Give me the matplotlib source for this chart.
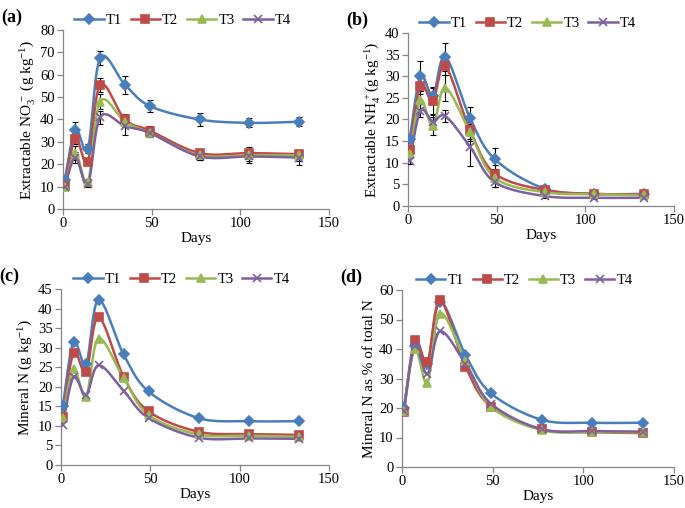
import numpy as np
import matplotlib
matplotlib.use("Agg")
import matplotlib.pyplot as plt

plt.rcParams['font.family'] = ['Liberation Serif', 'DejaVu Serif']
plt.rcParams['mathtext.fontset'] = 'custom'
plt.rcParams['mathtext.rm'] = 'Liberation Serif'
plt.rcParams['mathtext.it'] = 'Liberation Serif:italic'

days = [1, 7, 14, 21, 35, 49, 77, 105, 133]
names = ['T1', 'T2', 'T3', 'T4']

# (a) extractable NO3-
no3_t1 = [13, 35.5, 27, 67.5, 55.5, 46, 40, 38.5, 39]
no3_t2 = [10.5, 31.5, 21, 55.5, 40, 35, 25, 25, 24.5]
no3_t3 = [10, 25, 12, 48, 39, 34, 24, 24, 24]
no3_t4 = [10, 23, 11, 41, 37, 34, 23.5, 23.5, 23]
no3_err_t1 = [1.5, 3.5, 2, 3, 4, 2.5, 3, 2, 2]
no3_err_t2 = [1, 2.5, 1.5, 3, 2.5, 2, 2, 2.5, 2]
no3_err_t3 = [1, 3, 1.5, 3.5, 2.5, 2, 2, 2.5, 2.5]
no3_err_t4 = [1, 2.5, 1, 3, 4, 2, 1.5, 3, 3.5]

# (b) extractable NH4+
nh4_t1 = [15.5, 30, 25.5, 34.5, 20.3, 10.8, 4, 2.8, 2.8]
nh4_t2 = [13, 27.8, 24.3, 32.3, 17.5, 7.5, 3.7, 2.8, 2.7]
nh4_t3 = [12, 24.5, 18.5, 27.3, 17, 6.5, 3.2, 2.7, 2.5]
nh4_t4 = [10.5, 22, 19.5, 20.8, 13.7, 5.5, 2.3, 1.9, 1.9]
nh4_err_t1 = [1, 3.5, 2, 3.3, 2.5, 2.7, 0.5, 0.4, 0.4]
nh4_err_t2 = [1, 2, 3, 2, 2, 2, 0.5, 0.4, 0.4]
nh4_err_t3 = [1, 2, 2, 3, 2, 2, 0.5, 0.4, 0.4]
nh4_err_t4 = [0.8, 1.5, 1.5, 1.3, 4.5, 1, 0.4, 0.3, 0.3]

# (c) mineral N
min_t1 = [15, 31.5, 25.8, 42.2, 28.3, 18.8, 12, 11.2, 11.2]
min_t2 = [12.3, 28.7, 23.8, 37.8, 22.6, 13.7, 8.5, 7.9, 7.7]
min_t3 = [12, 24.5, 17.5, 32.3, 22.2, 12.8, 7.8, 7.5, 7.2]
min_t4 = [10.3, 22.5, 17.8, 25.5, 19, 12, 7, 6.8, 6.7]

# (d) mineral N as % of total N
pct_t1 = [20, 41, 35, 56, 38, 25, 16, 15, 15]
pct_t2 = [18.5, 43, 35.5, 56.5, 34, 20.5, 12.8, 11.8, 11.5]
pct_t3 = [19, 40, 28.5, 52, 36, 20.5, 12.5, 11.8, 11.8]
pct_t4 = [19, 41, 31.5, 46, 35, 21.5, 12.8, 12.2, 12]

colors = ['#4A7EBB', '#BE4B48', '#98B954', '#7D60A0']
markers = ['D', 's', '^', 'x']
msizes = [5, 6, 6, 6]


def smooth(x, y, n=30):
    # excel-like smoothed line (catmull-rom bezier) for drawing only
    p = np.column_stack([x, y]).astype(float)
    out = [p[0]]
    for i in range(len(p) - 1):
        p0 = p[i - 1] if i > 0 else p[i]
        p1 = p[i]
        p2 = p[i + 1]
        p3 = p[i + 2] if i + 2 < len(p) else p[i + 1]
        c1 = p1 + (p2 - p0) / 6
        c2 = p2 - (p3 - p1) / 6
        t = np.linspace(0, 1, n)[1:, None]
        seg = (1 - t) ** 3 * p1 + 3 * (1 - t) ** 2 * t * c1 + 3 * (1 - t) * t ** 2 * c2 + t ** 3 * p2
        out.extend(seg)
    out = np.array(out)
    return out[:, 0], out[:, 1]


fig = plt.figure(figsize=(6.85, 5.08), dpi=100)
W, H = 685, 508
boxes = [(63, 30, 329, 209), (408, 33, 674, 206), (61, 289, 329, 465), (402, 290, 674, 467)]
panels = [
    ('(a)', [no3_t1, no3_t2, no3_t3, no3_t4], [no3_err_t1, no3_err_t2, no3_err_t3, no3_err_t4],
     80, 10, r'Extractable NO$_3^{\,-}$ (g kg$^{-1}$)'),
    ('(b)', [nh4_t1, nh4_t2, nh4_t3, nh4_t4], [nh4_err_t1, nh4_err_t2, nh4_err_t3, nh4_err_t4],
     40, 5, r'Extractable NH$_4^{\,+}$(g kg$^{-1}$)'),
    ('(c)', [min_t1, min_t2, min_t3, min_t4], None, 45, 5, r'Mineral N (g kg$^{-1}$)'),
    ('(d)', [pct_t1, pct_t2, pct_t3, pct_t4], None, 60, 10, 'Mineral N as % of total N'),
]

for (x0, y0, x1, y1), (lab, series, errs, ymax, ystep, ylab) in zip(boxes, panels):
    ax = fig.add_axes([x0 / W, 1 - y1 / H, (x1 - x0) / W, (y1 - y0) / H])
    handles = []
    for k in range(4):
        if errs is not None:
            ax.errorbar(days, series[k], yerr=errs[k], fmt='none', ecolor='black',
                        elinewidth=0.8, capsize=2.5, capthick=0.8, zorder=3)
        sx, sy = smooth(days, series[k])
        ax.plot(sx, sy, color=colors[k], lw=1.8, zorder=4)
        ax.plot(days, series[k], ls='none', marker=markers[k], ms=msizes[k],
                color=colors[k], mec=colors[k], mew=1.2, zorder=5)
        handles.append(ax.plot([], [], color=colors[k], lw=1.8, marker=markers[k],
                               ms=msizes[k], mew=1.2)[0])
    ax.set_xlim(0, 150)
    ax.set_ylim(0, ymax)
    ax.set_xticks([0, 50, 100, 150])
    ax.set_yticks(np.arange(0, ymax + 0.1, ystep))
    for s in ['top', 'right']:
        ax.spines[s].set_visible(False)
    for s in ['left', 'bottom']:
        ax.spines[s].set_color('#868686')
        ax.spines[s].set_linewidth(0.9)
    ax.tick_params(direction='out', length=4, width=0.9, color='#868686', labelsize=10.5, pad=2)
    ax.set_xlabel('Days', fontsize=11, labelpad=1)
    ax.set_ylabel(ylab, fontsize=11, labelpad=2)
    ax.legend(handles, names, loc='lower center', bbox_to_anchor=(0.45, 0.985), ncol=4,
              frameon=False, fontsize=10.5, handlelength=2.0, handletextpad=0.15, columnspacing=0.6,
              borderaxespad=0)
    fig.text((x0 - 62) / W, 1 - (y0 - 13) / H, lab, fontsize=13, fontweight='bold', va='center')

fig.savefig('out.png', dpi=100)
